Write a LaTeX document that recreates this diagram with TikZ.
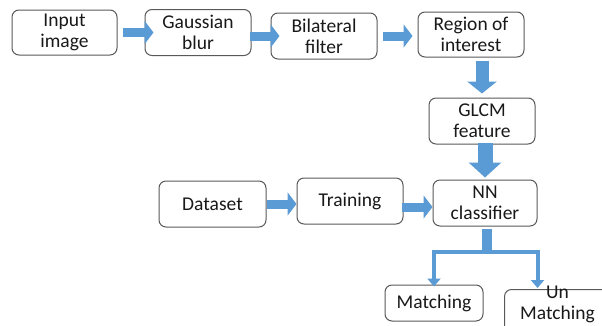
\documentclass[tikz,border=0pt]{standalone}
\usepackage{fontspec}
\setmainfont{Carlito}
\usepackage{tikz}
\usetikzlibrary{arrows.meta}
\definecolor{pilblaa}{HTML}{5B9BD5}
\definecolor{kantgraa}{HTML}{595959}
\tikzset{
  boks/.style={draw=kantgraa, line width=1pt, rounded corners=7pt, fill=white,
    align=center, inner sep=0pt, text=black!90,
    font=\fontsize{19.5}{21}\selectfont},
  pil/.style={draw=pilblaa, line width=9pt, -{Triangle[length=9pt,width=23pt]}},
  nedpil/.style={draw=pilblaa, line width=13pt, -{Triangle[length=12pt,width=29pt]}},
  grein/.style={draw=pilblaa, line width=4pt, -{Triangle[length=8pt,width=13pt]}}
}

\begin{document}
\begin{tikzpicture}[x=1pt, y=-1pt]
  \useasboundingbox (0,0) rectangle (602,325);
  % Bokser
  \node[boks, minimum width=105, minimum height=45] (input) at (64.5,32.5) {Input\\image};
  \node[boks, minimum width=106, minimum height=46] (gauss) at (198,32.5) {Gaussian\\blur};
  \node[boks, minimum width=106, minimum height=46] (bilat) at (324,36) {Bilateral\\filter};
  \node[boks, minimum width=106, minimum height=45] (roi) at (471,34.5) {Region of\\interest};
  \node[boks, minimum width=106, minimum height=46] (glcm) at (482,121) {GLCM\\feature};
  \node[boks, minimum width=104, minimum height=46] (nn) at (485,203) {NN\\classifier};
  \node[boks, minimum width=107, minimum height=46] (data) at (212.5,204) {Dataset};
  \node[boks, minimum width=106, minimum height=46] (train) at (350,201) {Training};
  \node[boks, minimum width=98, minimum height=36] (match) at (434,303) {Matching};
  \node[boks, minimum width=106, text height=30pt, text depth=16pt, anchor=north west] (unmatch) at (504,289) {Un\\Matching};
  % Piler, øverste rad
  \draw[pil, shorten <=5pt, shorten >=-9pt] (input.east) -- (gauss.west);
  \draw[pil, shorten <=-2pt, shorten >=-9pt] (bilat.west -| gauss.east) -- (bilat.west);
  \draw[pil, shorten <=5pt, shorten >=5pt] (bilat.east) -- (bilat.east -| roi.west);
  % Piler nedover
  \draw[nedpil, shorten <=3pt, shorten >=4pt] (roi.south -| glcm) -- (glcm.north);
  \draw[nedpil, line width=15pt, -{Triangle[length=15pt,width=32pt]}, shorten <=-2pt, shorten >=2pt]
    (glcm.south -| nn) -- (nn.north);
  % Trening
  \draw[pil] (data.east) -- (data.east -| train.west);
  \draw[pil, shorten <=-2pt] ([yshift=-6pt]train.east) -- ([yshift=-6pt]train.east -| nn.west);
  % Forgrening
  \coordinate (split) at (487,252);
  \draw[draw=pilblaa, line width=10pt, shorten <=2pt] (nn.south -| split) -- ([yshift=-2pt]split);
  \draw[grein, shorten >=-2pt] (split) -| (match.north);
  \draw[grein, shorten >=1pt] (split) -| (unmatch.north -| nn.east);
\end{tikzpicture}
\end{document}
